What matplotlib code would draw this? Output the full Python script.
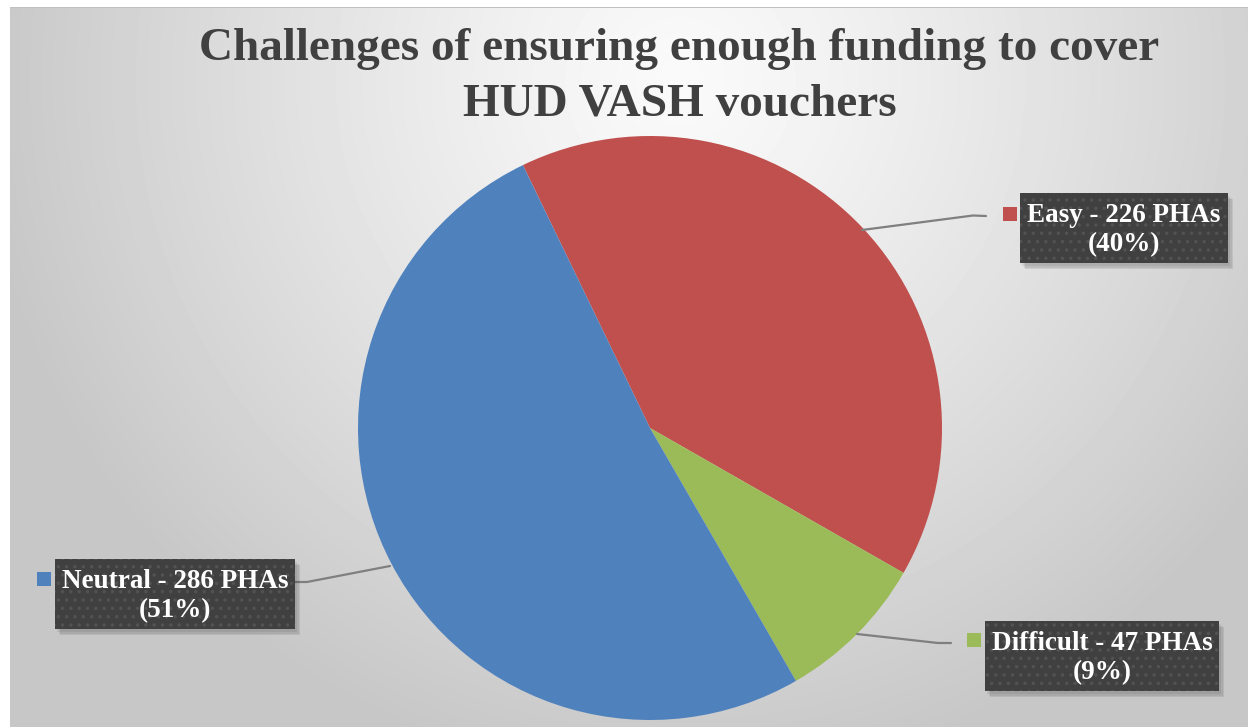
import numpy as np
import matplotlib.pyplot as plt
from matplotlib.patches import Rectangle

# data
labels = ["Easy", "Difficult", "Neutral"]
counts = [226, 47, 286]
percents = [40, 9, 51]
colors = ["#C0504D", "#9BBB59", "#4F81BD"]
title_lines = ["Challenges of ensuring enough funding to cover", "HUD VASH vouchers"]

W, H = 1248, 727


def py(y):
    # pixel row (from top) -> data y
    return H - y


plt.rcParams["hatch.linewidth"] = 1.3

fig = plt.figure(figsize=(12.48, 7.27), dpi=100)
ax = fig.add_axes([0, 0, 1, 1])

# background: soft radial gray gradient
yy, xx = np.mgrid[0:H, 0:W]
d = np.hypot(xx - 680, yy - 80)
shade = np.clip(0.98 - 0.2 * (d / 700) ** 1.2, 0.78, 1.0)
shade[:, :10] = 1.0
shade[:7, :] = 1.0
shade[7, 10:] = 0.75
ax.imshow(shade, cmap="gray", vmin=0, vmax=1, extent=(0, W, 0, H),
          origin="upper", aspect="auto", interpolation="bilinear", zorder=0)

# pie
ax.pie(counts, colors=colors, startangle=115.8, counterclock=False,
       center=(650, py(428)), radius=292, wedgeprops=dict(linewidth=0, zorder=2))

# labels with leader lines
boxes = [(1020, 193, 1228, 263), (985, 621, 1219, 691), (55, 559, 295, 629)]
keys = [(1003, 207), (967, 633), (37, 572)]
leaders = [
    [(862, 230), (973, 215.5), (986, 216)],
    [(857, 634), (938, 643), (951, 643)],
    [(390, 566), (307, 582), (295, 582)],
]

for lab, n, pct, col, box, key, lead in zip(labels, counts, percents, colors, boxes, keys, leaders):
    lx = [p[0] for p in lead]
    ly = [py(p[1]) for p in lead]
    ax.plot(lx, ly, color="#7f7f7f", lw=1.6, zorder=3, solid_capstyle="round")

    left, top, right, bottom = box
    w, h = right - left, bottom - top
    # soft shadow
    for k, a in enumerate([0.10, 0.10, 0.12]):
        off = 2 + k * 1.5
        ax.add_patch(Rectangle((left + off, py(bottom) - off - 1), w, h,
                               facecolor="#404040", edgecolor="none", alpha=a, zorder=3))
    ax.add_patch(Rectangle((left, py(bottom)), w, h, facecolor="#404040",
                           edgecolor="#525252", linewidth=0, hatch="..", zorder=4))
    ax.add_patch(Rectangle((key[0], py(key[1]) - 14), 14, 14, facecolor=col,
                           edgecolor="none", zorder=4))
    ax.text((left + right) / 2, py((top + bottom) / 2 + 2.5), f"{lab} - {n} PHAs\n({pct}%)",
            ha="center", va="center", color="white", fontsize=19.5,
            fontweight="bold", family="Liberation Serif", linespacing=1.22, zorder=5)

# title
ax.text(679, py(60), title_lines[0], ha="center", va="baseline", color="#404040",
        fontsize=34, fontweight="bold", family="Liberation Serif", zorder=5)
ax.text(680, py(115), title_lines[1], ha="center", va="baseline", color="#404040",
        fontsize=34, fontweight="bold", family="Liberation Serif", zorder=5)

ax.set_xlim(0, W)
ax.set_ylim(0, H)
ax.set_aspect("auto")
ax.axis("off")

fig.savefig("out.png", dpi=100)
